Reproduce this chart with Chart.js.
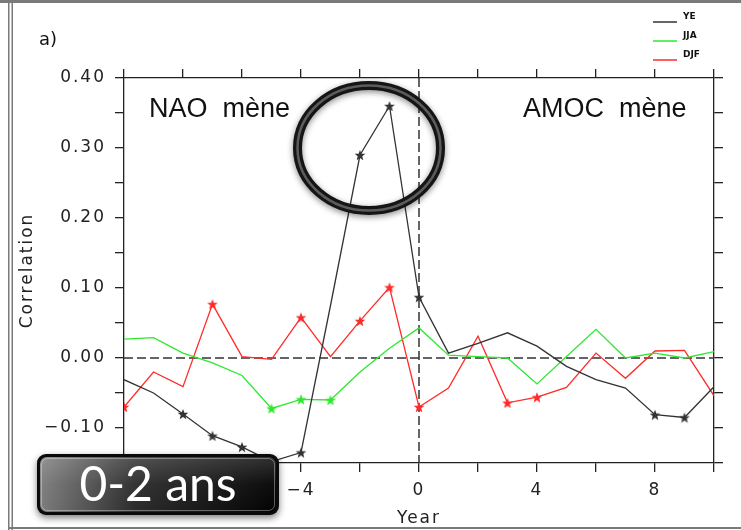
<!DOCTYPE html>
<html>
<head>
<meta charset="utf-8">
<script src="https://cdn.jsdelivr.net/npm/chart.js@4.4.1/dist/chart.umd.min.js"></script>
<style>
  html, body { margin: 0; padding: 0; background: #fff; }
  #wrap { width: 741px; height: 530px; }
</style>
</head>
<body>
<div id="wrap"><canvas id="chart" width="741" height="530"></canvas></div>
<script>
// lag in years: negative = NAO leads, positive = AMOC leads
let years = [-10, -9, -8, -7, -6, -5, -4, -3, -2, -1, 0, 1, 2, 3, 4, 5, 6, 7, 8, 9, 10];

// lagged correlations
let ye  = [-0.031, -0.050, -0.080, -0.111, -0.127, -0.148, -0.135, 0.075, 0.290, 0.360, 0.087,
           0.007, 0.021, 0.036, 0.017, -0.012, -0.031, -0.043, -0.081, -0.085, -0.041];
let jja = [0.027, 0.029, 0.007, -0.007, -0.025, -0.072, -0.059, -0.060, -0.020, 0.014, 0.043,
           0.004, 0.002, 0.000, -0.037, 0.002, 0.041, 0.000, 0.007, 0.000, 0.009];
let djf = [-0.070, -0.020, -0.041, 0.077, 0.002, -0.002, 0.058, 0.002, 0.053, 0.101, -0.070,
           -0.043, 0.031, -0.064, -0.056, -0.042, 0.007, -0.029, 0.010, 0.011, -0.054];

// 1 = significant (star marker)
let yeSig  = [0, 0, 1, 1, 1, 1, 1, 0, 1, 1, 1, 0, 0, 0, 0, 0, 0, 0, 1, 1, 0];
let jjaSig = [0, 0, 0, 0, 0, 1, 1, 1, 0, 0, 0, 0, 0, 0, 0, 0, 0, 0, 0, 0, 0];
let djfSig = [1, 0, 0, 1, 0, 0, 1, 0, 1, 1, 1, 0, 0, 1, 1, 0, 0, 0, 0, 0, 0];

let seriesNames = ["YE", "JJA", "DJF"];
let seriesColors = ["#333333", "#2ee82e", "#ff2a2a"];

let tickFont = { family: "DejaVu Sans", size: 17 };

/* small filled star used as point marker */
function makeStar(color) {
    let c = document.createElement("canvas");
    c.width = 12;
    c.height = 12;
    let g = c.getContext("2d");
    g.fillStyle = color;
    g.beginPath();
    for (let i = 0; i < 10; i++) {
        let r = i % 2 === 0 ? 5.6 : 2.4;
        let a = -Math.PI / 2 + i * Math.PI / 5;
        g.lineTo(6 + r * Math.cos(a), 6.6 + r * Math.sin(a));
    }
    g.closePath();
    g.fill();
    return c;
}

function makeDataset(name, values, sig, color) {
    return {
        label: name,
        data: years.map((x, i) => ({ x: x, y: values[i] })),
        borderColor: color,
        backgroundColor: color,
        borderWidth: 1.3,
        tension: 0,
        pointStyle: makeStar(color),
        pointRadius: sig.map(s => s ? 5 : 0),
        pointHoverRadius: sig.map(s => s ? 5 : 0)
    };
}

function minus(s) {
    return s.replace("-", "\u2212");
}

/* page decorations: frame, zero lines, legend, notes */
const decor = {
    id: "decor",
    beforeDraw(chart) {
        let ctx = chart.ctx;
        ctx.save();
        ctx.fillStyle = "#fff";
        ctx.fillRect(0, 0, chart.width, chart.height);
        // outer frame
        ctx.fillStyle = "#7a7a7a";
        ctx.fillRect(0, 0, chart.width, 3);
        ctx.fillRect(8, 0, 1.5, chart.height);
        ctx.fillRect(11.5, 0, 1.5, chart.height);
        ctx.fillRect(8, 527, chart.width - 8, 2);
        ctx.restore();
        ctx.letterSpacing = "2px";
    },
    beforeDatasetsDraw(chart) {
        let ctx = chart.ctx;
        ctx.letterSpacing = "0px";
        let a = chart.chartArea;
        let x0 = chart.scales.x.getPixelForValue(0);
        let y0 = chart.scales.y.getPixelForValue(0);
        ctx.save();
        ctx.strokeStyle = "#333";
        ctx.lineWidth = 1.5;
        ctx.setLineDash([9, 4]);
        ctx.beginPath();
        ctx.moveTo(a.left, y0);
        ctx.lineTo(a.right, y0);
        ctx.moveTo(x0, a.top);
        ctx.lineTo(x0, a.bottom);
        ctx.stroke();
        ctx.restore();
    },
    afterDraw(chart) {
        let ctx = chart.ctx;
        ctx.save();

        // legend
        ctx.font = "bold 9px 'DejaVu Sans'";
        ctx.textBaseline = "middle";
        chart.data.datasets.forEach((ds, i) => {
            let y = 22 + i * 19;
            ctx.strokeStyle = ds.borderColor;
            ctx.lineWidth = 1.5;
            ctx.beginPath();
            ctx.moveTo(653, y);
            ctx.lineTo(677, y);
            ctx.stroke();
            ctx.fillStyle = "#111";
            ctx.fillText(ds.label, 683, y - 5);
        });

        // panel letter
        ctx.font = "18px 'DejaVu Sans'";
        ctx.fillStyle = "#111";
        ctx.fillText("a)", 39, 40);

        // lead notes
        ctx.font = "27px 'Liberation Sans'";
        ctx.textBaseline = "alphabetic";
        ctx.fillText("NAO  m\u00e8ne", 149, 117);
        ctx.fillText("AMOC  m\u00e8ne", 523, 117);

        // ring round the peak
        ctx.save();
        ctx.shadowColor = "rgba(0,0,0,0.45)";
        ctx.shadowBlur = 6;
        ctx.shadowOffsetY = 2;
        ctx.strokeStyle = "#151515";
        ctx.lineWidth = 9;
        ctx.beginPath();
        ctx.ellipse(369, 148, 71.5, 62.5, 0, 0, Math.PI * 2);
        ctx.stroke();
        ctx.restore();
        ctx.strokeStyle = "#5c5c5c";
        ctx.lineWidth = 2.5;
        ctx.beginPath();
        ctx.ellipse(369, 148, 71.5, 62.5, 0, 0, Math.PI * 2);
        ctx.stroke();

        // window label box
        ctx.save();
        ctx.shadowColor = "rgba(0,0,0,0.5)";
        ctx.shadowBlur = 7;
        ctx.shadowOffsetY = 3;
        ctx.fillStyle = "#0a0a0a";
        ctx.beginPath();
        ctx.roundRect(37, 454, 242, 61, 9);
        ctx.fill();
        ctx.restore();

        let grad = ctx.createLinearGradient(40, 0, 276, 0);
        grad.addColorStop(0, "#7c7c7c");
        grad.addColorStop(0.4, "#2c2c2c");
        grad.addColorStop(1, "#030303");
        ctx.fillStyle = grad;
        ctx.beginPath();
        ctx.roundRect(40, 457, 236, 55, 7);
        ctx.fill();

        let gloss = ctx.createLinearGradient(0, 457, 0, 512);
        gloss.addColorStop(0, "rgba(255,255,255,0.18)");
        gloss.addColorStop(0.5, "rgba(255,255,255,0.04)");
        gloss.addColorStop(1, "rgba(255,255,255,0)");
        ctx.fillStyle = gloss;
        ctx.beginPath();
        ctx.roundRect(40, 457, 236, 55, 7);
        ctx.fill();

        ctx.strokeStyle = "rgba(255,255,255,0.35)";
        ctx.lineWidth = 1;
        ctx.beginPath();
        ctx.roundRect(41.5, 458.5, 233, 52, 6);
        ctx.stroke();

        ctx.fillStyle = "#fff";
        ctx.font = "48px Lato";
        ctx.textAlign = "center";
        ctx.textBaseline = "middle";
        ctx.fillText("0-2 ans", 158, 486);

        ctx.restore();
    }
};

function edgeAxis(pos, size) {
    let horiz = pos === "top";
    return {
        type: "linear",
        position: pos,
        min: horiz ? -10 : -0.15,
        max: horiz ? 10 : 0.40,
        afterFit: s => { if (horiz) s.height = size; else s.width = size; },
        ticks: { stepSize: horiz ? 2 : 0.05, display: false },
        grid: { drawOnChartArea: false, tickLength: 9, color: "#222", lineWidth: 1.3 },
        border: { color: "#222", width: 1.3 }
    };
}

new Chart(document.getElementById("chart"), {
    type: "line",
    data: {
        datasets: [
            makeDataset(seriesNames[0], ye, yeSig, seriesColors[0]),
            makeDataset(seriesNames[1], jja, jjaSig, seriesColors[1]),
            makeDataset(seriesNames[2], djf, djfSig, seriesColors[2])
        ]
    },
    options: {
        responsive: false,
        animation: false,
        layout: { padding: { top: 69, right: 18, left: 0, bottom: 0 } },
        plugins: { legend: { display: false }, tooltip: { enabled: false } },
        scales: {
            x: {
                type: "linear",
                position: "bottom",
                min: -10,
                max: 10,
                afterFit: s => { s.height = 67; },
                ticks: {
                    stepSize: 2,
                    autoSkip: false,
                    maxRotation: 0,
                    padding: 8,
                    color: "#222",
                    font: tickFont,
                    callback: v => (v % 4 === 0 && Math.abs(v) < 10) ? minus(String(v)) : ""
                },
                grid: { drawOnChartArea: false, tickLength: 9, color: "#222", lineWidth: 1.3 },
                border: { color: "#222", width: 1.3 },
                title: {
                    display: true,
                    text: "Year",
                    color: "#222",
                    font: { family: "DejaVu Sans", size: 17 },
                    padding: { top: 0, bottom: 1 }
                }
            },
            y: {
                type: "linear",
                position: "left",
                min: -0.15,
                max: 0.40,
                afterFit: s => { s.width = 124; },
                ticks: {
                    stepSize: 0.05,
                    autoSkip: false,
                    padding: 9,
                    color: "#222",
                    font: tickFont,
                    callback: v => {
                        let k = Math.round(v * 100);
                        return (k % 10 === 0) ? minus(v.toFixed(2)) : "";
                    }
                },
                grid: { drawOnChartArea: false, tickLength: 9, color: "#222", lineWidth: 1.3 },
                border: { color: "#222", width: 1.3 },
                title: {
                    display: true,
                    text: "Correlation",
                    color: "#222",
                    font: { family: "DejaVu Sans", size: 17 },
                    padding: { top: 17, bottom: 0 }
                }
            },
            x2: edgeAxis("top", 9),
            y2: edgeAxis("right", 9)
        }
    },
    plugins: [decor]
});
</script>
</body>
</html>
